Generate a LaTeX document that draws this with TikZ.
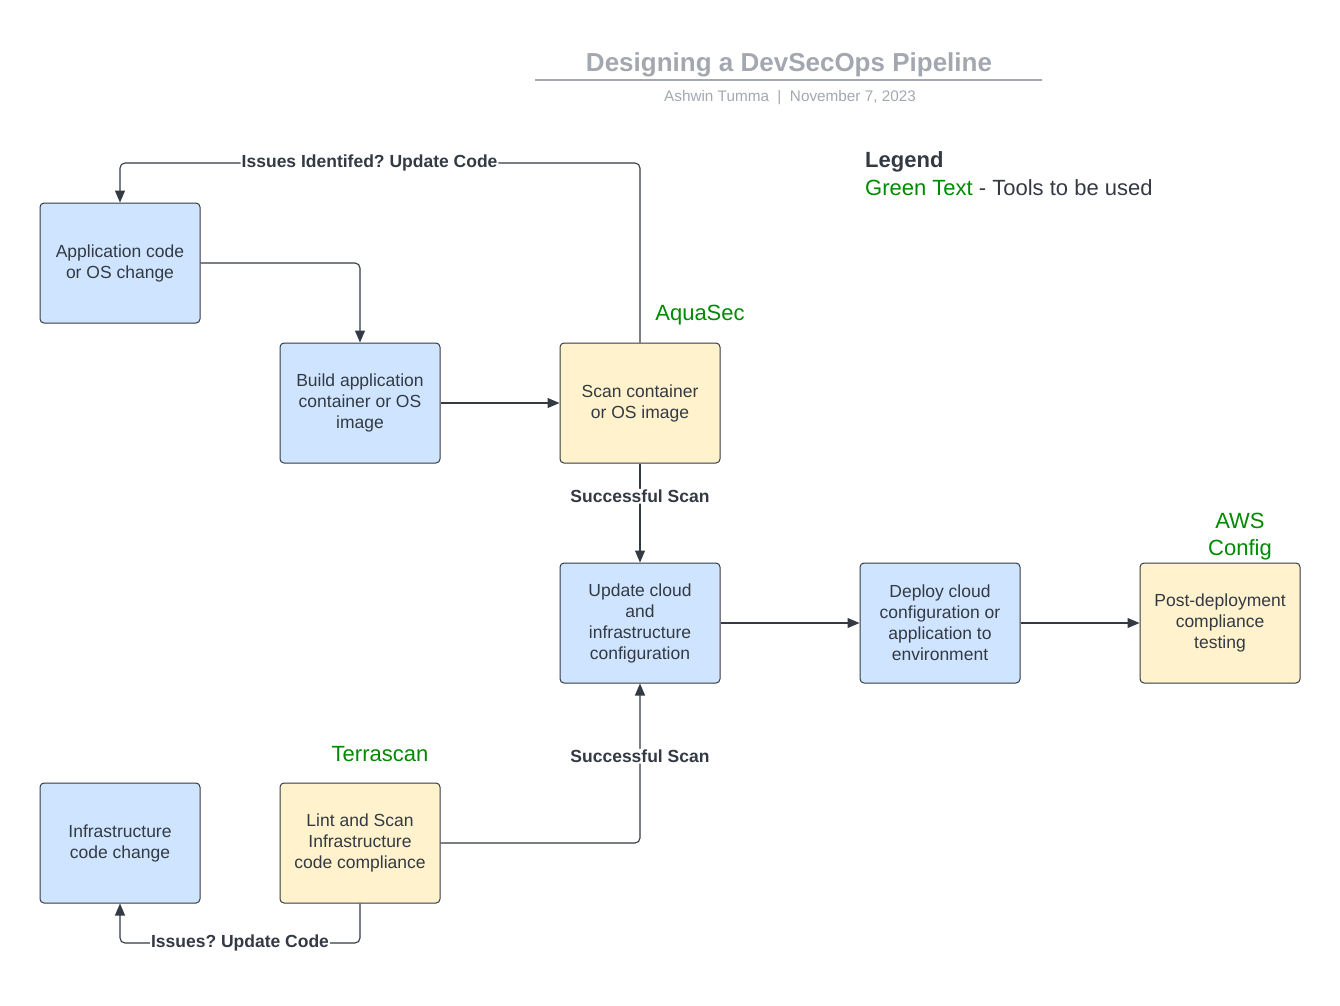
\documentclass[tikz,border=0pt]{standalone}
\usepackage{fontspec}
\setmainfont{Liberation Sans}
\usetikzlibrary{arrows.meta}
\frenchspacing
\definecolor{ink}{HTML}{333A44}
\definecolor{bluef}{HTML}{CFE4FF}
\definecolor{yelf}{HTML}{FFF2CC}
\definecolor{tgreen}{HTML}{008A00}
\definecolor{titleg}{HTML}{A3A8B0}
\tikzset{
  box/.style={draw=ink, line width=1pt, rounded corners=4pt, minimum width=160pt, minimum height=120pt, align=center, font=\fontsize{17.5}{21}\selectfont, text=ink},
  bluebox/.style={box, fill=bluef},
  yelbox/.style={box, fill=yelf},
  conn/.style={draw=ink, line width=1.1pt, rounded corners=5pt, -{Triangle[length=12pt,width=10pt]}},
  lbl/.style={fill=white, font=\bfseries\fontsize{17.5}{20}\selectfont, text=ink, inner sep=1pt},
  tool/.style={font=\fontsize{22}{27}\selectfont, text=tgreen, align=center},
}
\begin{document}
\begin{tikzpicture}[x=1pt,y=-1pt]
\useasboundingbox (0,0) rectangle (1340,1005);
% title
\node (title) [font=\bfseries\fontsize{26}{30}\selectfont, text=titleg] at (789,65) {Designing a DevSecOps Pipeline};
\coordinate (tl) at (535,80);
\coordinate (tr) at (1042,80);
\draw[titleg, line width=1.3pt] (tl) -- (tr);
\node (sub) [font=\fontsize{15.3}{18}\selectfont, text=titleg] at (790,98) {Ashwin Tumma \;|\; November 7, 2023};
% legend
\node (leg) [anchor=west, font=\bfseries\fontsize{22}{26}\selectfont, text=ink, inner sep=0pt] at (865,162) {Legend};
\node (leg2) [anchor=west, font=\fontsize{22}{26}\selectfont, text=ink, inner sep=0pt] at (865,188) {\textcolor{tgreen}{Green Text} - Tools to be used};
% boxes
\node (app) [bluebox] at (120,263) {Application code\\or OS change};
\node (build) [bluebox] at (360,403) {Build application\\container or OS\\image};
\node (scan) [yelbox] at (640,403) {Scan container\\or OS image};
\node (upd) [bluebox] at (640,623) {Update cloud\\and\\infrastructure\\configuration};
\node (dep) [bluebox] at (940,623) {Deploy cloud\\configuration or\\application to\\environment};
\node (post) [yelbox] at (1220,623) {Post-deployment\\compliance\\testing};
\node (infra) [bluebox] at (120,843) {Infrastructure\\code change};
\node (lint) [yelbox] at (360,843) {Lint and Scan\\Infrastructure\\code compliance};
% tools
\node (aqua) [tool] at (700,315) {AquaSec};
\node (aws) [tool] at (1240,537) {AWS\\Config};
\node (terra) [tool] at (380,754) {Terrascan};
% connectors
\draw[conn] (app.east) -| (build.north);
\draw[conn] (build.east) -- (scan.west);
\draw[conn] (scan.north) -- (640,163) -| node[lbl, pos=0.26] {Issues Identifed? Update Code} (app.north);
\draw[conn] (scan.south) -- node[lbl, pos=0.33] {Successful Scan} (upd.north);
\draw[conn] (upd.east) -- (dep.west);
\draw[conn] (dep.east) -- (post.west);
\draw[conn] (lint.east) -| node[lbl, pos=0.772] {Successful Scan} (upd.south);
\draw[conn] (lint.south) -- (360,943) -| node[lbl, pos=0.25] {Issues? Update Code} (infra.south);
\end{tikzpicture}
\end{document}
